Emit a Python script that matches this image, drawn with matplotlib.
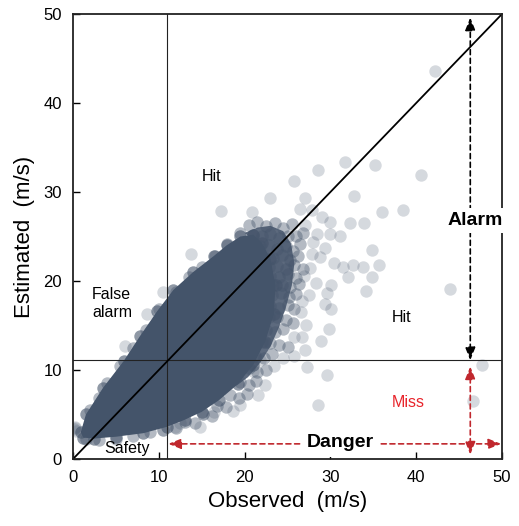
"""
Observed vs estimated wind speed, with alarm/danger categories
"""

import numpy as np
import matplotlib.pyplot as plt

plt.rcParams['font.family'] = ['Liberation Sans', 'DejaVu Sans']

# threshold (m/s) used for both axes
threshold = 10.9

# solid core of the point cloud (outline, clockwise)
core_x = [0.9, 1.5, 3.5, 5.9, 7.8, 9.8, 11.7, 14.0, 16.4, 17.9, 19.5, 21.0,
          22.0, 23.0, 23.6, 23.4, 22.4, 21.0, 19.2, 17.0, 15.0, 13.0, 10.9,
          8.2, 5.0, 2.5, 1.2]
core_y = [3.0, 5.0, 8.0, 11.0, 13.8, 16.6, 19.0, 21.0, 22.8, 24.0, 25.0, 25.2,
          24.3, 22.5, 19.5, 16.3, 13.2, 10.6, 8.4, 6.6, 5.3, 4.4, 3.6,
          2.9, 2.5, 2.3, 2.4]

# speckled part of the cloud to the right of the core
semi_x = [20.0, 21.5, 23.0, 24.5, 25.4, 25.8, 25.5, 24.8, 24.0, 23.0, 21.8,
          20.4, 19.0, 20.5, 22.0, 22.8, 23.2, 22.6, 21.0]
semi_y = [25.4, 26.0, 26.2, 25.6, 24.2, 22.0, 19.5, 17.0, 14.8, 12.6, 10.8,
          9.2, 8.2, 10.5, 13.2, 16.3, 19.5, 22.5, 24.6]

# translucent points round the cloud (fuzzy fringe)
fringe_x = [20.5, 21.5, 22.5, 23.5, 24.5, 25.5,
            21.0, 22.0, 23.0, 24.0, 25.0, 26.0, 26.8,
            21.8, 22.8, 23.8, 24.8, 25.6, 26.4,
            22.3, 23.3, 24.3, 25.3, 26.2,
            22.8, 23.8, 24.8, 25.8, 26.8,
            23.0, 24.0, 25.0, 26.0,
            23.3, 24.3, 25.3, 26.3,
            23.2, 24.2, 25.2, 26.0,
            23.0, 24.0, 25.0, 25.8,
            22.8, 23.8, 24.8, 25.6,
            22.5, 23.5, 24.5,
            22.0, 23.0, 24.0, 25.0,
            21.2, 22.2, 23.2,
            20.5, 21.5, 22.5,
            19.5, 20.5, 21.3,
            18.3, 19.3, 20.3,
            16.8, 17.8, 15.2, 16.2, 13.0, 14.2, 10.5, 12.0,
            2.0, 3.0, 4.0, 5.5, 7.0, 8.5, 10.0, 12.0, 13.5, 15.0, 16.5,
            18.0, 19.5,
            1.5, 3.0, 5.0, 7.0, 9.0]
fringe_y = [26.3, 26.6, 26.2, 26.5, 26.0, 26.4,
            25.2, 25.0, 25.3, 24.8, 25.1, 25.0, 25.4,
            23.9, 24.0, 23.6, 23.9, 23.4, 24.2,
            22.8, 22.6, 22.9, 22.4, 22.8,
            21.6, 21.7, 21.3, 21.8, 21.4,
            20.6, 20.4, 20.8, 20.3,
            19.5, 19.6, 19.3, 19.7,
            18.4, 18.6, 18.2, 18.5,
            17.2, 17.0, 17.3, 16.8,
            15.9, 16.0, 15.6, 15.3,
            14.5, 14.3, 14.6,
            13.2, 13.0, 12.8, 12.6,
            11.6, 11.3, 11.8,
            10.2, 9.8, 10.0,
            8.6, 8.3, 8.8,
            7.2, 6.9, 7.3,
            6.0, 5.8, 5.0, 4.8, 4.2, 4.0, 3.3, 3.5,
            5.5, 6.8, 8.5, 10.5, 12.5, 14.5, 16.8, 18.8, 20.4, 21.6, 22.8,
            24.2, 25.4,
            2.3, 2.1, 2.2, 2.6, 3.0]

# individual points outside the dense cloud
pts_x = [42.2, 31.7, 28.6, 35.2, 40.6, 25.7, 23.0, 27.0, 32.8, 17.2, 20.9,
         38.5, 36.0, 26.5, 27.8, 29.0, 29.9, 32.3, 33.9, 31.1, 29.9, 27.0,
         28.4, 13.7, 29.4, 27.8, 28.8, 34.9, 30.4, 31.5, 32.6, 33.8, 35.7,
         34.8, 32.0, 30.1, 34.1, 43.9, 29.6, 29.4, 30.1, 26.7, 27.2, 26.7,
         25.7, 29.8, 28.9, 27.0, 25.7, 8.6, 10.5, 6.0, 27.3, 29.6, 47.7,
         46.6, 28.6, 22.4, 21.6, 19.5, 18.6, 15.2, 16.4, 14.8, 11.9, 10.5,
         12.5, 21.0, 21.8, 23.4, 24.5, 0.1, 0.2, 0.3, 0.2,
         27.6, 28.3, 27.5, 26.9, 28.0, 26.6]
pts_y = [43.6, 33.4, 32.5, 33.0, 31.9, 31.2, 29.3, 29.3, 29.6, 27.9, 27.8,
         28.0, 27.7, 28.1, 28.0, 27.2, 26.6, 26.5, 26.5, 25.1, 25.3, 26.3,
         25.3, 23.0, 23.7, 23.0, 22.7, 23.5, 22.0, 21.6, 21.8, 21.6, 21.8,
         20.4, 20.4, 19.5, 18.9, 19.1, 18.6, 17.4, 16.9, 17.8, 15.0, 13.7,
         13.7, 14.6, 13.3, 12.2, 11.6, 16.3, 18.8, 12.7, 10.3, 9.4, 10.6,
         6.5, 6.1, 8.3, 7.2, 6.1, 5.4, 5.0, 5.3, 3.6, 3.6, 3.3,
         4.0, 9.9, 11.1, 10.5, 11.3, 3.4, 3.6, 3.2, 3.5,
         21.5, 19.8, 18.4, 20.6, 24.4, 16.5]

ticks = [0, 10, 20, 30, 40, 50]
cloud = '#44546a'

fig = plt.figure(figsize=(5.19, 5.26), dpi=100)
ax = fig.add_axes([0.1407, 0.1274, 0.8266, 0.846])

ax.fill(semi_x, semi_y, color='#5d6a7e', lw=0, zorder=1.4)
ax.fill(core_x, core_y, color=cloud, lw=0, zorder=1.5)
ax.scatter(core_x, core_y, s=80, color=cloud, alpha=0.6, lw=0, zorder=1.6)
ax.scatter(fringe_x, fringe_y, s=80, color=cloud, alpha=0.4, lw=0, zorder=2)
ax.scatter(pts_x, pts_y, s=80, color=cloud, alpha=0.22, lw=0, zorder=2)

# thresholds and 1:1 line
ax.axvline(threshold, color='#222222', lw=0.8, zorder=2.2)
ax.axhline(threshold + 0.2, color='#222222', lw=0.8, zorder=2.2)
ax.plot([0, 50], [0, 50], color='black', lw=1.3, zorder=2.3)


def dashed_arrow(p0, p1, color):
    """Flèche pointillée à deux têtes"""
    ax.annotate('', xy=p1, xytext=p0,
                arrowprops=dict(arrowstyle='<|-|>,head_length=0.55,'
                                           'head_width=0.22',
                                ls=(0, (3, 2.2)), lw=1.2, color=color,
                                mutation_scale=14, shrinkA=0, shrinkB=0))


# category arrows
dashed_arrow((46.3, 11.1), (46.3, 49.6), 'black')
dashed_arrow((46.3, 0.5), (46.3, 10.4), '#c0272d')
dashed_arrow((49.9, 1.7), (11.1, 1.7), '#c0272d')

# region labels
ax.text(16.2, 31.7, 'Hit', fontsize=11.5, ha='center', va='center')
ax.text(38.3, 15.9, 'Hit', fontsize=11.5, ha='center', va='center')
ax.text(2.2, 17.5, 'False\nalarm', fontsize=11.5, ha='left', va='center',
        linespacing=1.25)
ax.text(6.3, 1.2, 'Safety', fontsize=11.5, ha='center', va='center')
ax.text(39.1, 6.3, 'Miss', fontsize=11.5, ha='center', va='center',
        color='#e8242b')
ax.text(31.1, 1.8, 'Danger', fontsize=14, fontweight='bold', ha='center',
        va='center', bbox=dict(fc='white', ec='none', pad=4), zorder=4)
ax.text(46.9, 26.8, 'Alarm', fontsize=14, fontweight='bold', ha='center',
        va='center', bbox=dict(fc='white', ec='none', pad=3), zorder=4,
        clip_on=False)

ax.set_xlim(0, 50)
ax.set_ylim(0, 50)
ax.set_xticks(ticks)
ax.set_yticks(ticks)
ax.tick_params(direction='in', length=5, width=1, labelsize=12, pad=8)
for sp in ax.spines.values():
    sp.set_linewidth(1.3)
    sp.set_color('#222222')
ax.set_xlabel('Observed  (m/s)', fontsize=16, labelpad=4)
ax.set_ylabel('Estimated  (m/s)', fontsize=16, labelpad=6)

fig.savefig('out.png', dpi=100)
